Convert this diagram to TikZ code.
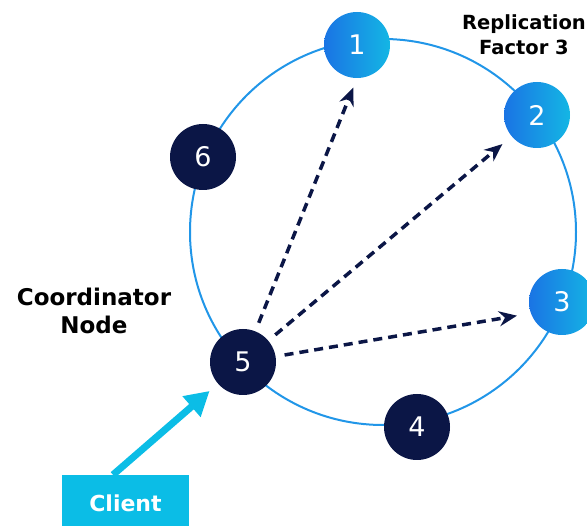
\documentclass[tikz,border=0pt]{standalone}
\usepackage{fontspec}
\setmainfont{DejaVu Sans}
\usetikzlibrary{arrows.meta}
\definecolor{navy}{HTML}{0B1646}
\definecolor{ringblue}{HTML}{2196E8}
\definecolor{deepblue}{HTML}{1A74E4}
\definecolor{lightblue}{HTML}{14B6E4}
\definecolor{clientcyan}{HTML}{0BBDE6}
\begin{document}
\begin{tikzpicture}[x=1pt,y=-1pt,
  replica/.style={circle,minimum size=66pt,inner sep=0pt,left color=deepblue,right color=lightblue,text=white,font=\fontsize{27}{27}\selectfont},
  plain/.style={circle,minimum size=66pt,inner sep=0pt,fill=navy,text=white,font=\fontsize{27}{27}\selectfont},
  label/.style={font=\fontsize{23}{28}\selectfont\bfseries,align=center},
  copy/.style={navy,line width=3.5pt,dash pattern=on 9pt off 6pt,-{Stealth[length=18pt,width=15pt]},shorten <=9pt,shorten >=12pt}]
  \useasboundingbox (0,0) rectangle (587,526);
  \node[circle,draw=ringblue,line width=2pt,minimum size=386pt] (ring) at (383,232) {};
  \node[replica] (n1) at (357,45) {1};
  \node[replica] (n2) at (537,115) {2};
  \node[replica] (n3) at (562,302) {3};
  \node[plain] (n4) at (417,427) {4};
  \node[plain] (n5) at (243,362) {5};
  \node[plain] (n6) at (203,157) {6};
  \node[label] (coord) at (94,311) {Coordinator\\Node};
  \node[label,font=\fontsize{19.5}{25}\selectfont\bfseries] (rf) at (524,35) {Replication\\Factor 3};
  \node[fill=clientcyan,text=white,minimum width=127pt,minimum height=56pt,font=\fontsize{22}{22}\selectfont\bfseries] (client) at (125.5,503) {Client};
  \draw[copy,shorten >=10pt] (n5) -- (n1.south);
  \draw[copy] (n5) -- (n2);
  \draw[copy,shorten >=14pt] (n5) -- (n3.200);
  \draw[clientcyan,line width=7pt,-{Triangle[length=24pt,width=26pt]},shorten >=11pt] ([xshift=-12.5pt]client.north) -- (n5);
\end{tikzpicture}
\end{document}
